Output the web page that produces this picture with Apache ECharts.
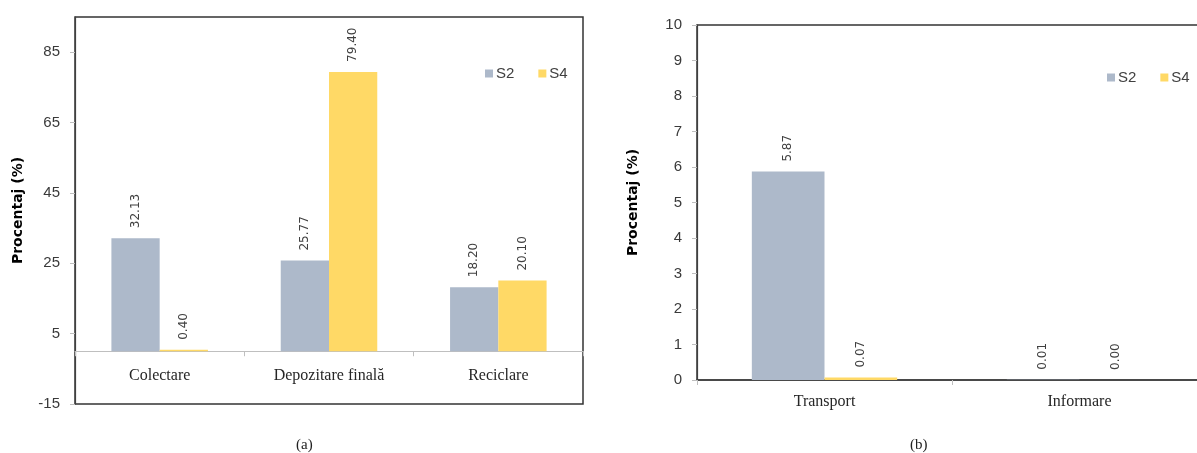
<!DOCTYPE html>
<html>
<head>
<meta charset="utf-8">
<title>Procentaj S2 / S4</title>
<script src="https://cdn.jsdelivr.net/npm/echarts@6/dist/echarts.min.js"></script>
<style>
  html, body { margin: 0; padding: 0; background: #ffffff; }
  #chart { width: 1197px; height: 453px; }
</style>
</head>
<body>
<div id="chart"></div>
<script>
// Panel (a): waste management stages
const categoriesA = ['Colectare', 'Depozitare finală', 'Reciclare'];
const s2A = [32.13, 25.77, 18.20];
const s4A = [0.40, 79.40, 20.10];
const yTicksA = [-15, 5, 25, 45, 65, 85];

// Panel (b): transport and information
const categoriesB = ['Transport', 'Informare'];
const s2B = [5.87, 0.01];
const s4B = [0.07, 0.00];
const yTicksB = [0, 1, 2, 3, 4, 5, 6, 7, 8, 9, 10];

const seriesNames = ['S2', 'S4'];
const colorS2 = '#ADB9CA';
const colorS4 = '#FFD966';
const axisTitle = 'Procentaj (%)';

const sansFont = '"Liberation Sans", Arial, sans-serif';
const serifFont = '"Liberation Serif", "Times New Roman", serif';
const labelFont = '"DejaVu Sans", Verdana, sans-serif';

const valueLabel = {
  show: true,
  position: 'top',
  rotate: 90,
  align: 'left',
  verticalAlign: 'middle',
  distance: 10,
  fontFamily: labelFont,
  fontSize: 12,
  color: '#404040',
  formatter: p => Number(p.value).toFixed(2)
};

function barSeries(name, data, color, axisIndex) {
  return {
    name: name,
    type: 'bar',
    xAxisIndex: axisIndex,
    yAxisIndex: axisIndex,
    data: data,
    barGap: '0%',
    barCategoryGap: '43%',
    itemStyle: { color: color },
    label: valueLabel
  };
}

function valueAxis(gridIndex, min, max, interval, ticks, nameGap) {
  return {
    type: 'value',
    gridIndex: gridIndex,
    min: min,
    max: max,
    interval: interval,
    name: axisTitle,
    nameLocation: 'middle',
    nameGap: nameGap,
    nameTextStyle: {
      fontFamily: '"DejaVu Sans", Verdana, sans-serif',
      fontWeight: 'bold',
      fontSize: 14,
      color: '#000000'
    },
    axisLine: { show: true, lineStyle: { color: '#404040', width: 1.2 } },
    axisTick: {
      show: true,
      length: 5,
      customValues: ticks,
      lineStyle: { color: '#BFBFBF' }
    },
    axisLabel: {
      customValues: ticks,
      margin: 15,
      fontFamily: sansFont,
      fontSize: 15,
      color: '#3a3a3a'
    },
    splitLine: { show: false }
  };
}

function categoryAxis(gridIndex, cats, lineColor, lineWidth, margin) {
  return {
    type: 'category',
    gridIndex: gridIndex,
    data: cats,
    axisLine: { show: true, onZero: true, lineStyle: { color: lineColor, width: lineWidth } },
    axisTick: { show: true, length: 5, lineStyle: { color: '#BFBFBF' } },
    axisLabel: {
      margin: margin,
      fontFamily: serifFont,
      fontSize: 16,
      color: '#262626'
    }
  };
}

const legendStyle = {
  icon: 'rect',
  itemWidth: 8,
  itemHeight: 8,
  itemGap: 24,
  padding: 0,
  orient: 'horizontal',
  data: seriesNames,
  selectedMode: false,
  textStyle: { fontFamily: sansFont, fontSize: 15, color: '#404040', padding: [0, 0, 0, -2] }
};

const chart = echarts.init(document.getElementById('chart'), null, { renderer: 'canvas' });

chart.setOption({
  animation: false,
  backgroundColor: '#ffffff',
  grid: [
    { left: 75, top: 17, width: 508, height: 387, show: true, borderColor: '#333333', borderWidth: 1.5, containLabel: false, outerBoundsMode: 'none' },
    { left: 697, top: 25, width: 510, height: 355, show: true, borderColor: '#333333', borderWidth: 1.5, containLabel: false, outerBoundsMode: 'none' }
  ],
  legend: [
    Object.assign({ left: 485, top: 66 }, legendStyle),
    Object.assign({ left: 1107, top: 70, width: 120 }, legendStyle)
  ],
  xAxis: [
    // labels sit just under the zero line, well above the bottom of the frame
    categoryAxis(0, categoriesA, '#BFBFBF', 1, -36),
    categoryAxis(1, categoriesB, '#404040', 1.5, 14)
  ],
  yAxis: [
    valueAxis(0, -15, 95, 20, yTicksA, 50),
    valueAxis(1, 0, 10, 1, yTicksB, 57)
  ],
  series: [
    barSeries(seriesNames[0], s2A, colorS2, 0),
    barSeries(seriesNames[1], s4A, colorS4, 0),
    barSeries(seriesNames[0], s2B, colorS2, 1),
    barSeries(seriesNames[1], s4B, colorS4, 1)
  ],
  graphic: [
    { type: 'text', left: 296, top: 438, style: { text: '(a)', font: '15px ' + serifFont, fill: '#222222' } },
    { type: 'text', left: 910, top: 438, style: { text: '(b)', font: '15px ' + serifFont, fill: '#222222' } }
  ]
});
</script>
</body>
</html>
